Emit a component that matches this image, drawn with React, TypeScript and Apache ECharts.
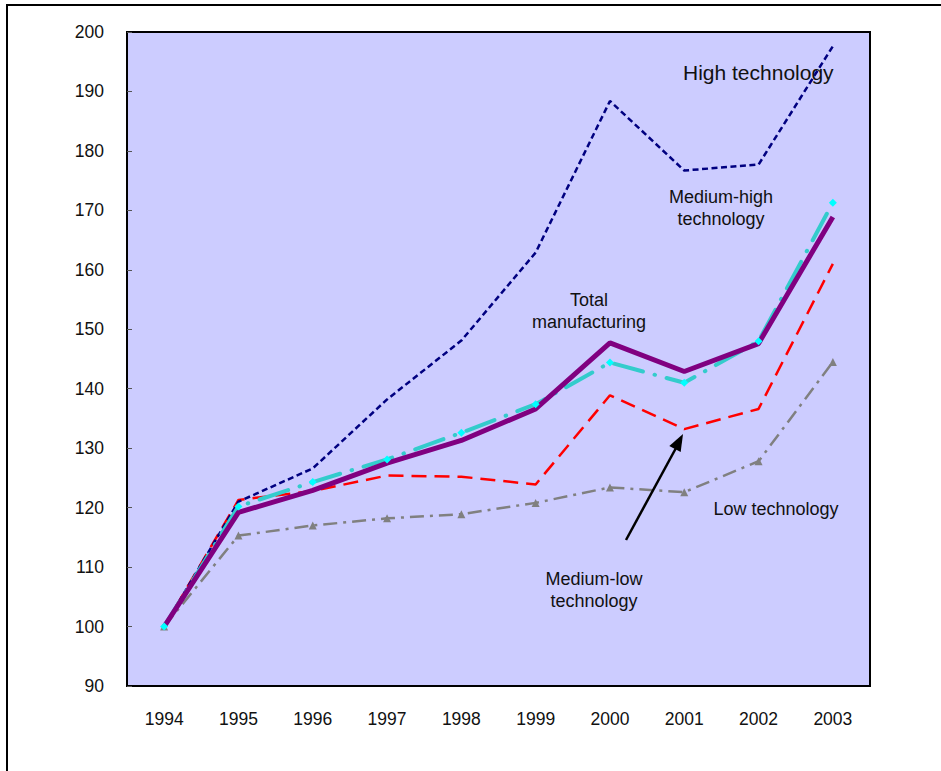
import React, { useEffect, useRef } from "react";
import * as echarts from "echarts";

const years = ["1994", "1995", "1996", "1997", "1998", "1999", "2000", "2001", "2002", "2003"];
const highTech = [100, 121, 126.6, 138.2, 148.1, 162.9, 188.4, 176.7, 177.7, 197.6];
const mediumHighTech = [100, 120.2, 124.3, 128.1, 132.6, 137.4, 144.4, 141.0, 148.0, 171.3];
const totalManufacturing = [100, 119.2, 122.9, 127.5, 131.3, 136.6, 147.7, 142.9, 147.6, 168.9];
const mediumLowTech = [100, 121.3, 122.8, 125.4, 125.2, 123.9, 138.9, 133.2, 136.6, 161.0];
const lowTech = [100, 115.3, 117.0, 118.2, 118.9, 120.8, 123.4, 122.6, 127.8, 144.5];

const FONT = "'Liberation Sans', Arial, sans-serif";

export default function App() {
  const ref = useRef<HTMLDivElement>(null);
  useEffect(() => {
    document.body.style.margin = "0";
    const chart = echarts.init(ref.current!, null, { renderer: "svg" });
    const txt = (x: number, y: number, text: string, size: number, align: string = "center") => ({
      type: "text",
      x,
      y,
      z: 100,
      style: {
        text,
        font: `${size}px ${FONT}`,
        fill: "#111",
        align,
        verticalAlign: "middle",
        lineHeight: 22,
      },
    });
    chart.setOption({
      animation: false,
      backgroundColor: "#ffffff",
      textStyle: { fontFamily: FONT },
      grid: {
        left: 127,
        right: 71,
        top: 32,
        bottom: 85,
        show: true,
        backgroundColor: "#CCCCFF",
        borderColor: "#000",
        borderWidth: 2,
      },
      xAxis: {
        type: "category",
        data: years,
        boundaryGap: true,
        axisLine: { lineStyle: { color: "#000", width: 2 } },
        axisTick: { inside: true, length: 5, interval: 0, lineStyle: { color: "#555", width: 1 } },
        axisLabel: { color: "#111", fontSize: 17.5, margin: 24, fontFamily: FONT },
        splitLine: { show: false },
      },
      yAxis: {
        type: "value",
        min: 90,
        max: 200,
        interval: 10,
        axisLine: { show: true, lineStyle: { color: "#000", width: 2 } },
        axisTick: { show: true, inside: true, length: 5, lineStyle: { color: "#555", width: 1 } },
        axisLabel: { color: "#111", fontSize: 17.5, margin: 23, fontFamily: FONT },
        splitLine: { show: false },
      },
      series: [
        {
          name: "Low technology",
          type: "line",
          data: lowTech,
          symbol: "triangle",
          symbolSize: 8,
          itemStyle: { color: "#808080" },
          lineStyle: { color: "#808080", width: 2.5, type: [14, 6, 3, 6] },
        },
        {
          name: "Medium-low technology",
          type: "line",
          data: mediumLowTech,
          symbol: "none",
          lineStyle: { color: "#FF0000", width: 2.5, type: [15, 8] },
        },
        {
          name: "High technology",
          type: "line",
          data: highTech,
          symbol: "none",
          lineStyle: { color: "#000080", width: 2.5, type: [6, 3.5] },
        },
        {
          name: "Medium-high technology",
          type: "line",
          data: mediumHighTech,
          symbol: "diamond",
          symbolSize: 8,
          itemStyle: { color: "#00FFFF" },
          lineStyle: { color: "#33CCCC", width: 4, type: [30, 12, 0.5, 12], cap: "round" },
        },
        {
          name: "Total manufacturing",
          type: "line",
          data: totalManufacturing,
          symbol: "none",
          lineStyle: { color: "#800080", width: 5 },
        },
      ],
      graphic: [
        {
          type: "rect",
          z: 100,
          shape: { x: 7, y: 5, width: 1000, height: 900 },
          style: { fill: "none", stroke: "#000", lineWidth: 2 },
          silent: true,
        },
        txt(683, 72, "High technology", 21, "left"),
        txt(721, 208, "Medium-high\ntechnology", 18),
        txt(589, 311, "Total\nmanufacturing", 18),
        txt(776, 509, "Low technology", 18),
        txt(594, 590, "Medium-low\ntechnology", 18),
        {
          type: "line",
          z: 100,
          shape: { x1: 626, y1: 540, x2: 676, y2: 448 },
          style: { stroke: "#000", lineWidth: 2.5 },
        },
        {
          type: "polygon",
          z: 100,
          shape: { points: [[683, 434], [669.3, 445.9], [680.7, 452.1]] },
          style: { fill: "#000" },
        },
      ],
    });
    return () => chart.dispose();
  }, []);
  return <div ref={ref} style={{ width: 941, height: 771 }} />;
}
